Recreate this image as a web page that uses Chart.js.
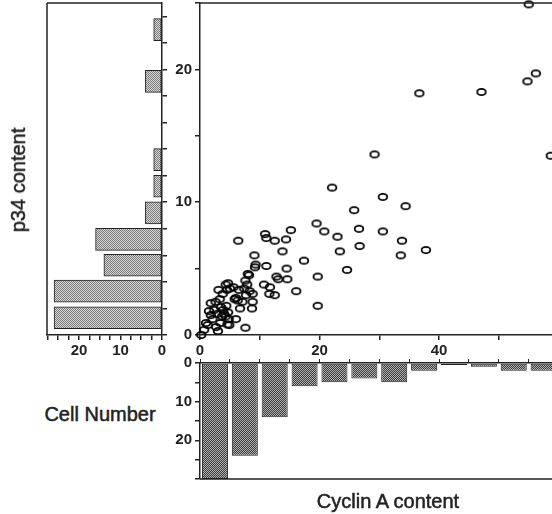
<!DOCTYPE html>
<html>
<head>
<meta charset="utf-8">
<script src="https://cdn.jsdelivr.net/npm/chart.js@4.4.1/dist/chart.umd.min.js"></script>
<style>
  body { margin: 0; background: #fff; }
  #wrap { position: relative; width: 552px; height: 514px; overflow: hidden; background: #fff; }
  canvas { position: absolute; }
  .lbl { position: absolute; font-family: "Liberation Sans", Arial, sans-serif; font-size: 20px; color: #222; line-height: 1; white-space: nowrap; transform: translate(-50%, -50%); -webkit-text-stroke: 0.5px #222; }
</style>
</head>
<body>
<div id="wrap">
  <canvas id="left-hist" width="176" height="362" style="left:0;top:0"></canvas>
  <canvas id="scatter" width="389" height="362" style="left:163px;top:0"></canvas>
  <canvas id="bottom-hist" width="389" height="150" style="left:163px;top:340px"></canvas>
  <div class="lbl" style="left:18px;top:180px;transform:translate(-50%,-50%) rotate(-90deg)">p34 content</div>
  <div class="lbl" style="left:100px;top:414px">Cell Number</div>
  <div class="lbl" style="left:388px;top:501px">Cyclin A content</div>
</div>
<script>
// scatter: cyclin A content (x) vs p34 content (y), one point per cell
const cyclinA = [
  55.0, 56.2, 54.8, 47.1, 36.7, 58.7, 29.2, 22.1, 30.6, 25.8, 34.4, 19.5, 20.8, 26.6,
  30.6, 23.0, 33.8, 26.7, 23.4, 33.6, 37.8, 24.6, 19.7, 19.7, 17.4, 15.2, 16.1,
  10.9, 11.1, 12.5, 14.4, 13.8, 11.1, 14.5, 12.8, 13.1, 14.6, 10.7, 11.7, 11.6, 12.5,
  6.4, 9.1, 9.2, 9.3, 8.0, 8.2, 7.6, 7.9, 5.0, 5.6, 6.5, 7.4, 8.3, 8.8, 7.7, 6.0,
  5.8, 6.3, 7.1, 8.8, 8.7, 6.7, 6.0, 7.6,
  4.3, 4.7, 3.1, 3.8, 4.5, 1.8, 2.6, 3.3, 2.4, 1.5, 1.8, 3.5, 3.9, 4.4, 4.7, 4.0,
  2.9, 4.3, 3.7, 2.1, 4.8, 4.9, 4.6, 3.4, 2.7, 3.0, 1.0, 1.3, 0.7, 0.2
];
const p34 = [
  24.9, 19.7, 19.1, 18.3, 18.2, 13.5, 13.6, 11.1, 10.4, 9.4, 9.7, 8.4, 7.8, 8.0,
  7.8, 7.4, 7.1, 6.7, 6.3, 6.0, 6.4, 4.9, 4.4, 2.2, 5.6, 7.9, 3.3,
  7.6, 7.3, 7.1, 7.2, 6.3, 5.2, 5.0, 4.4, 4.2, 4.2, 3.8, 3.6, 3.1, 3.0,
  7.1, 6.0, 5.1, 5.3, 4.6, 4.5, 4.1, 3.8, 3.5, 3.6, 3.4, 3.5, 3.3, 3.1, 3.0, 2.8,
  2.7, 2.6, 2.5, 2.5, 2.0, 2.0, 1.2, 0.55,
  3.8, 3.9, 3.4, 3.1, 3.4, 2.4, 2.5, 2.7, 1.9, 1.8, 1.5, 2.1, 1.9, 2.2, 1.7, 1.6,
  1.6, 1.4, 1.4, 1.2, 1.2, 0.75, 0.8, 0.9, 0.6, 0.3, 0.9, 0.75, 0.4, 0.0
];

// left histogram: cell number per p34 class (class centre as drawn)
const p34BinCentres = [1.3, 3.3, 5.25, 7.2, 9.2, 11.2, 13.2, 19.1, 23.0];
const p34Counts = [26, 26, 14, 16, 4, 2, 2, 4, 2];

// bottom histogram: cell number per cyclin A class (class start, width 5)
const cyclinBinStarts = [0, 5, 10, 15, 20, 25, 30, 35, 40, 45, 50, 55];
const cyclinCounts = [30, 24, 14, 6, 5, 4, 5, 2, 0.5, 1, 2, 2];

const ink = "#222";
const tickFont = { family: "'Liberation Sans', Arial, sans-serif", size: 15, weight: "bold" };
const xMax = 58.9;

const stipple = (dark, light) => {
  const c = document.createElement("canvas");
  c.width = 2;
  c.height = 2;
  const g = c.getContext("2d");
  g.fillStyle = light;
  g.fillRect(0, 0, 2, 2);
  g.fillStyle = dark;
  g.fillRect(0, 0, 1, 1);
  g.fillRect(1, 1, 1, 1);
  return g.createPattern(c, "repeat");
};

const ring = () => {
  const c = document.createElement("canvas");
  c.width = 12;
  c.height = 10;
  const g = c.getContext("2d");
  g.lineWidth = 1.8;
  g.strokeStyle = "#000";
  g.beginPath();
  g.ellipse(6, 5, 4.3, 3.2, 0, 0, Math.PI * 2);
  g.stroke();
  return c;
};

// draws the plain box edges that are not axes
const framePlugin = {
  id: "frame",
  afterDraw(chart, args, opts) {
    const { ctx, chartArea: a } = chart;
    ctx.save();
    ctx.strokeStyle = ink;
    ctx.lineWidth = 1.5;
    ctx.beginPath();
    (opts.sides || []).forEach((s) => {
      if (s === "top") { ctx.moveTo(a.left, a.top); ctx.lineTo(a.right, a.top); }
      if (s === "bottom") { ctx.moveTo(a.left, a.bottom); ctx.lineTo(a.right, a.bottom); }
      if (s === "left") { ctx.moveTo(a.left, a.top); ctx.lineTo(a.left, a.bottom); }
    });
    ctx.stroke();
    ctx.restore();
  },
};

// fixed axis box size, and no extra room for overhanging tick labels
const fixBox = (w, h) => (s) => {
  if (w !== null) s.width = w;
  if (h !== null) s.height = h;
  s.paddingTop = 0;
  s.paddingBottom = 0;
  s.paddingLeft = 0;
  s.paddingRight = 0;
};

const axisBase = (extra) => ({
  type: "linear",
  offset: false,
  border: { display: true, color: ink, width: 1.5 },
  grid: { offset: false, drawOnChartArea: false, drawTicks: true, tickLength: 5, color: ink, lineWidth: 1.5 },
  ...extra,
});

const tickOpts = (step, labelEvery, extra = {}) => ({
  stepSize: step,
  includeBounds: false,
  autoSkip: false,
  maxRotation: 0,
  padding: 2,
  color: ink,
  font: tickFont,
  callback: (v) => (v % labelEvery === 0 ? String(v) : ""),
  ...extra,
});

const common = {
  responsive: false,
  animation: false,
  events: [],
};

new Chart(document.querySelector("#scatter"), {
  type: "scatter",
  data: {
    datasets: [{
      data: cyclinA.map((x, i) => ({ x, y: p34[i] })),
      pointStyle: ring(),
      pointRadius: 5,
      clip: false,
    }],
  },
  options: {
    ...common,
    layout: { autoPadding: false, padding: { top: 3, left: 0, right: 0, bottom: 0 } },
    plugins: { legend: { display: false }, tooltip: { enabled: false }, frame: { sides: ["top"] } },
    scales: {
      x: axisBase({ min: 0, max: xMax, ticks: tickOpts(10, 20), afterFit: fixBox(null, 27) }),
      y: axisBase({ min: 0, max: 25, ticks: tickOpts(5, 10, { padding: 3 }), afterFit: fixBox(37, null) }),
    },
  },
  plugins: [framePlugin],
});

new Chart(document.querySelector("#left-hist"), {
  type: "bar",
  data: {
    datasets: [{
      data: p34BinCentres.map((c, i) => ({ x: p34Counts[i], y: c })),
      backgroundColor: stipple("#7a7a7a", "#d8d8d8"),
      borderColor: ink,
      borderWidth: 1,
      borderSkipped: false,
      barThickness: 22,
    }],
  },
  options: {
    ...common,
    indexAxis: "y",
    layout: { autoPadding: false, padding: { top: 3, left: 47, right: 0, bottom: 0 } },
    plugins: { legend: { display: false }, tooltip: { enabled: false }, frame: { sides: ["top", "left"] } },
    scales: {
      x: axisBase({ reverse: true, min: 0, max: 27.7, ticks: tickOpts(2.5, 10), afterFit: fixBox(null, 27) }),
      y: axisBase({ position: "right", min: 0, max: 25, ticks: tickOpts(2, 100, { display: false }), afterFit: fixBox(14, null) }),
    },
  },
  plugins: [framePlugin],
});

new Chart(document.querySelector("#bottom-hist"), {
  type: "bar",
  data: {
    datasets: [{
      data: cyclinBinStarts.map((b, i) => ({ x: b + 2.5, y: cyclinCounts[i] })),
      backgroundColor: stipple("#3c3c3c", "#b0b0b0"),
      borderColor: ink,
      borderWidth: 1,
      borderSkipped: false,
      barPercentage: 0.87,
      categoryPercentage: 1,
    }],
  },
  options: {
    ...common,
    layout: { autoPadding: false, padding: { top: 0, left: 0, right: 0, bottom: 11 } },
    plugins: { legend: { display: false }, tooltip: { enabled: false }, frame: { sides: ["bottom"] } },
    scales: {
      x: axisBase({
        position: "top", min: 0, max: xMax,
        grid: { offset: false, drawOnChartArea: false, drawTicks: true, tickLength: 4, color: ink, lineWidth: 1 },
        ticks: tickOpts(5, 1000, { display: false }),
        afterFit: fixBox(null, 23),
      }),
      y: axisBase({
        reverse: true, min: 0, max: 30,
        ticks: tickOpts(5, 10, { padding: 3, callback: (v) => (v % 10 === 0 && v < 30 ? String(v) : "") }),
        afterFit: fixBox(37, null),
      }),
    },
  },
  plugins: [framePlugin],
});
</script>
</body>
</html>
